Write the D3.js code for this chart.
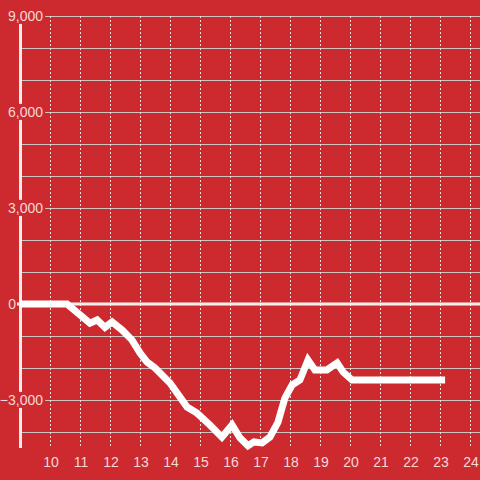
<!DOCTYPE html>
<html>
<head>
<meta charset="utf-8">
<script src="https://cdn.jsdelivr.net/npm/d3@7"></script>
<style>
  body { margin: 0; background: #cc2a2f; }
  svg { display: block; }
</style>
</head>
<body>
<div id="chart"></div>
<script>
// hours of the day and running value at each point
var hours = [9, 10.57, 11.33, 11.57, 11.83, 12.07, 12.4, 12.73, 13.0, 13.23, 13.5, 14.0, 14.57, 14.9,
             15.33, 15.73, 16.07, 16.33, 16.6, 16.8, 17.07, 17.33, 17.6, 17.83, 18.07, 18.33, 18.6,
             18.83, 19.23, 19.57, 19.77, 20.07, 23.17];
var values = [0, 0, -600, -500, -730, -560, -810, -1120, -1530, -1810, -2000, -2470, -3220, -3410,
              -3780, -4160, -3780, -4180, -4430, -4310, -4340, -4160, -3690, -2940, -2530, -2375, -1750,
              -2060, -2060, -1840, -2125, -2375, -2375];
var xTicks = [10, 11, 12, 13, 14, 15, 16, 17, 18, 19, 20, 21, 22, 23, 24];
var yTicks = [9000, 6000, 3000, 0, -3000];
var yGrid = d3.range(-4000, 9001, 1000);

var width = 480, height = 480;
var bg = "#cc2a2f";

var x = d3.scaleLinear().domain([9, 24]).range([20, 470]);
var y = d3.scaleLinear().domain([-4500, 9000]).range([448, 16]);

var svg = d3.select("#chart").append("svg")
    .attr("width", width)
    .attr("height", height);

svg.append("rect").attr("width", width).attr("height", height).attr("fill", bg);

// horizontal grid
svg.append("g").selectAll("line")
    .data(yGrid.filter(function(d) { return d !== 0; }))
    .enter().append("line")
    .attr("x1", 20).attr("x2", width)
    .attr("y1", function(d) { return y(d) + 0.5; })
    .attr("y2", function(d) { return y(d) + 0.5; })
    .attr("stroke", "#cfc4c4")
    .attr("stroke-width", 1);

// vertical dashed grid
svg.append("g").selectAll("line")
    .data(xTicks)
    .enter().append("line")
    .attr("x1", function(d) { return x(d) + 0.5; })
    .attr("x2", function(d) { return x(d) + 0.5; })
    .attr("y1", 16).attr("y2", 448)
    .attr("stroke", "#eadede")
    .attr("stroke-width", 1)
    .attr("stroke-dasharray", "2,2");

// y axis line
svg.append("line")
    .attr("x1", 20.5).attr("x2", 20.5)
    .attr("y1", 16).attr("y2", 448)
    .attr("stroke", "#f3eeee")
    .attr("stroke-width", 3);

// zero line
svg.append("line")
    .attr("x1", 17).attr("x2", width)
    .attr("y1", y(0)).attr("y2", y(0))
    .attr("stroke", "#f6f1f1")
    .attr("stroke-width", 3);

// y labels with background (the zero label sits left of the axis)
var yLab = svg.append("g").selectAll("g")
    .data(yTicks)
    .enter().append("g");

yLab.append("text")
    .attr("x", function(d) { return d === 0 ? 16 : 43; })
    .attr("y", function(d) { return y(d); })
    .attr("dy", "0.35em")
    .attr("text-anchor", "end")
    .attr("font-family", "Liberation Sans, Arial, sans-serif")
    .attr("font-size", 14)
    .attr("fill", "#f4d8d8")
    .text(function(d) { return d3.format(",")(d); });

yLab.filter(function(d) { return d !== 0; }).each(function() {
    var g = d3.select(this);
    var b = g.select("text").node().getBBox();
    g.insert("rect", "text")
        .attr("x", b.x - 2)
        .attr("y", b.y)
        .attr("width", b.width + 4)
        .attr("height", b.height)
        .attr("fill", bg);
});

// x labels
svg.append("g").selectAll("text")
    .data(xTicks)
    .enter().append("text")
    .attr("x", function(d) { return x(d) + 1; })
    .attr("y", 467)
    .attr("text-anchor", "middle")
    .attr("font-family", "Liberation Sans, Arial, sans-serif")
    .attr("font-size", 14)
    .attr("fill", "#f4d8d8")
    .text(function(d) { return d; });

// data line
var line = d3.line()
    .x(function(d, i) { return x(hours[i]); })
    .y(function(d) { return y(d); });

svg.append("path")
    .datum(values)
    .attr("d", line)
    .attr("fill", "none")
    .attr("stroke", "#ffffff")
    .attr("stroke-width", 7);
</script>
</body>
</html>
